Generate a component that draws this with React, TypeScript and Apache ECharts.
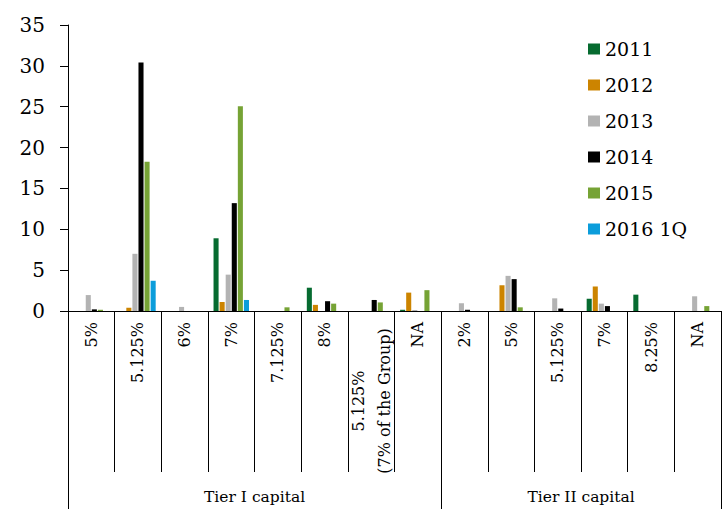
import React, { useEffect, useRef } from "react";
import * as echarts from "echarts";

// ---- data ----
const tierICategories = ["5%", "5.125%", "6%", "7%", "7.125%", "8%", "5.125%|(7% of the Group)", "NA"];
const tierIICategories = ["2%", "5%", "5.125%", "7%", "8.25%", "NA"];
const groupLabels = ["Tier I capital", "Tier II capital"];
const seriesNames = ["2011", "2012", "2013", "2014", "2015", "2016 1Q"];

const v2011 = [0, 0, 0, 8.9, 0, 2.85, 0, 0.15, 0, 0, 0, 1.5, 2.0, 0];
const v2012 = [0, 0.4, 0, 1.1, 0, 0.75, 0, 2.25, 0, 3.15, 0, 3.0, 0, 0];
const v2013 = [1.95, 7.0, 0.5, 4.45, 0, 0, 0, 0.12, 0.95, 4.3, 1.55, 0.9, 0, 1.8];
const v2014 = [0.2, 30.4, 0, 13.2, 0, 1.2, 1.35, 0, 0.15, 3.9, 0.3, 0.6, 0, 0];
const v2015 = [0.15, 18.25, 0, 25.05, 0.45, 0.9, 1.05, 2.55, 0, 0.45, 0, 0, 0, 0.6];
const v2016q1 = [0, 3.7, 0, 1.35, 0, 0, 0, 0, 0, 0, 0, 0, 0, 0];

const yMin = 0;
const yMax = 35;
const yInterval = 5;

const colors = ["#066B30", "#CC8400", "#B3B3B3", "#000000", "#76A335", "#0B9DDB"];

const FONT = "DejaVu Serif";

export default function App() {
  const ref = useRef<HTMLDivElement>(null);

  useEffect(() => {
    document.body.style.margin = "0";
    if (!ref.current) return;
    const chart = echarts.init(ref.current, undefined, { renderer: "svg" });

    const groups = [tierICategories, tierIICategories];
    const keys: string[] = [];
    const groupStart: number[] = [];
    groups.forEach((g, gi) => {
      groupStart.push(keys.length);
      g.forEach((c) => keys.push(gi + "#" + c));
    });
    const groupLabelIndex: Record<number, string> = {};
    groups.forEach((g, gi) => {
      const mid = groupStart[gi] + Math.floor((g.length - 1) / 2);
      groupLabelIndex[mid] = groupLabels[gi];
    });

    const gridLeft = 68;
    const gridRight = 1;
    const band = (722 - gridLeft - gridRight) / keys.length;

    const values = [v2011, v2012, v2013, v2014, v2015, v2016q1];

    chart.setOption({
      animation: false,
      color: colors,
      grid: { left: gridLeft, right: gridRight, top: 25, bottom: 198, containLabel: false },
      legend: {
        data: seriesNames,
        orient: "vertical",
        left: 588,
        top: 39,
        padding: 0,
        itemWidth: 12,
        itemHeight: 11,
        itemGap: 16,
        icon: "rect",
        textStyle: { fontSize: 19, fontFamily: FONT, color: "#000", lineHeight: 20 },
      },
      xAxis: [
        {
          type: "category",
          data: keys,
          position: "bottom",
          axisLine: { show: true, lineStyle: { color: "#000", width: 1 } },
          axisTick: { show: true, interval: 0, length: 161, alignWithLabel: false, lineStyle: { color: "#000" } },
          axisLabel: {
            interval: 0,
            rotate: 90,
            margin: 11,
            fontSize: 16,
            fontFamily: FONT,
            color: "#000",
            formatter: (v: string) => {
              const c = v.split("#")[1];
              if (c.includes("|")) {
                const parts = c.split("|");
                return parts.map((p) => "{m|" + p + "}").join("\n");
              }
              return c;
            },
            rich: {
              m: { width: 158, align: "center", fontSize: 16, fontFamily: FONT, color: "#000", lineHeight: 26 },
            },
          },
        },
        {
          type: "category",
          data: keys,
          position: "bottom",
          offset: 0,
          axisLine: { show: false },
          axisTick: {
            show: true,
            interval: (i: number) => groupStart.includes(i),
            length: 198,
            alignWithLabel: false,
            lineStyle: { color: "#000" },
          },
          axisLabel: {
            interval: 0,
            margin: 178,
            fontSize: 15.5,
            fontFamily: FONT,
            color: "#000",
            align: "center",
            padding: [0, 0, 0, band],
            formatter: (_v: string, i: number) => groupLabelIndex[i] || "",
          },
        },
      ],
      yAxis: {
        type: "value",
        min: yMin,
        max: yMax,
        interval: yInterval,
        axisLine: { show: true, lineStyle: { color: "#000" } },
        axisTick: { show: true, length: 8, lineStyle: { color: "#000" } },
        splitLine: { show: false },
        axisLabel: { margin: 23, fontSize: 20, fontFamily: FONT, color: "#000" },
      },
      series: seriesNames.map((name, i) => ({
        name,
        type: "bar",
        xAxisIndex: 0,
        data: values[i],
        barCategoryGap: "24%",
        barGap: "20%",
      })),
    });

    return () => chart.dispose();
  }, []);

  return <div ref={ref} style={{ width: 722, height: 509 }} />;
}
